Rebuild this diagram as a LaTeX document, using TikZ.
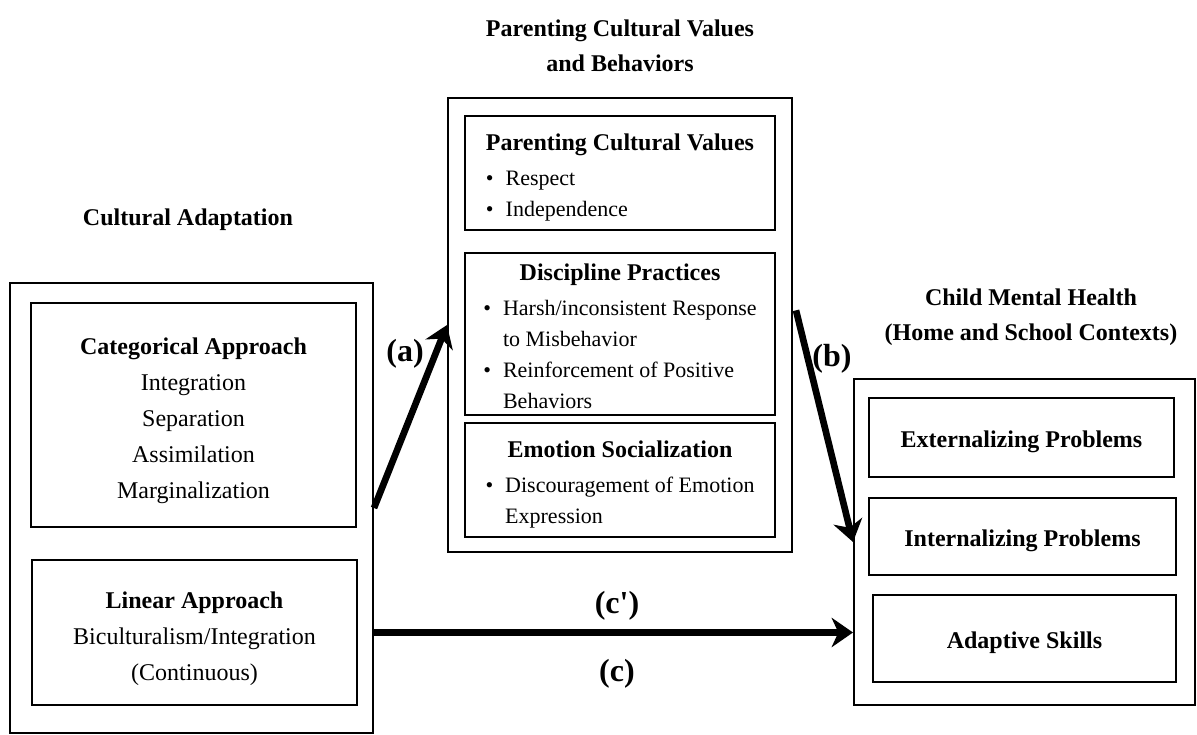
\documentclass[tikz,border=0pt]{standalone}
\usepackage{fontspec}
\setmainfont{Liberation Serif}
\usepackage{tikz}
\usetikzlibrary{positioning,arrows.meta,calc}

\newcommand{\bodyfont}{\fontsize{18}{27}\selectfont}
\newcommand{\listfont}{\fontsize{16.5}{23.25}\selectfont}
\newcommand{\headfont}{\fontsize{18}{26}\selectfont\bfseries}
% lower a box's text a little without changing its size
\newcommand{\low}[1]{\raisebox{-3.5pt}[\height][\depth]{#1}}
\newcommand{\listhead}[1]{\multicolumn{2}{@{}c@{}}{\fontsize{18}{23.25}\selectfont\bfseries #1}}

\begin{document}
\begin{tikzpicture}[x=0.75pt, y=-0.75pt,
  box/.style 2 args={draw, line width=1.5pt, inner sep=0pt, minimum width=#1*0.75pt,
    minimum height=#2*0.75pt, align=center, font=\bodyfont},
  listbox/.style 2 args={box={#1}{#2}, font=\listfont},
  heading/.style={align=center, font=\headfont},
  pathlabel/.style={font=\fontsize{24}{28}\selectfont\bfseries},
  patharrow/.style={line width=5pt, -{Stealth[length=16pt, width=22pt, inset=5pt]}}]

\useasboundingbox (0,0) rectangle (1197,735);

% cultural adaptation
\node[heading] (cult_title) at (188,220) {Cultural Adaptation};
\node[box={363}{450}] (cultural) at (191.5,508) {};
\node[box={325}{224}] (categorical) at (193.5,415) {\low{%
  \begin{tabular}{@{}c@{}}
  \textbf{Categorical Approach}\\Integration\\Separation\\Assimilation\\Marginalization
  \end{tabular}}};
\node[box={325}{145}] (linear) at (194.5,632.5) {\low{%
  \begin{tabular}{@{}c@{}}
  \textbf{Linear Approach}\\Biculturalism/Integration\\(Continuous)
  \end{tabular}}};

% parenting values and behaviors
\node[heading] (par_title) at (620,46) {Parenting Cultural Values\\and Behaviors};
\node[box={344}{454}] (parenting) at (620,325) {};
\node[listbox={310}{114}] (values) at (620,173) {\low{%
  \begin{tabular}{@{}l@{\hspace{9pt}}l@{}}
  \listhead{Parenting Cultural Values}\\[3pt]
  \textbullet & Respect\\
  \textbullet & Independence
  \end{tabular}}};
\node[listbox={310}{162}] (discipline) at (620,334) {\low{%
  \begin{tabular}{@{}l@{\hspace{9pt}}l@{}}
  \listhead{Discipline Practices}\\[3pt]
  \textbullet & Harsh/inconsistent Response\\
   & to Misbehavior\\
  \textbullet & Reinforcement of Positive\\
   & Behaviors
  \end{tabular}}};
\node[listbox={310}{114}] (emotion) at (620,480) {\low{%
  \begin{tabular}{@{}l@{\hspace{9pt}}l@{}}
  \listhead{Emotion Socialization}\\[3pt]
  \textbullet & Discouragement of Emotion\\
   & Expression
  \end{tabular}}};

% child mental health
\node[heading] (child_title) at (1031,317) {Child Mental Health\\(Home and School Contexts)};
\node[box={341}{326}] (child) at (1024.5,542) {};
\node[box={305}{79}, font=\bodyfont\bfseries] (external) at (1021.5,437.5) {\low{Externalizing Problems}};
\node[box={307}{77}, font=\bodyfont\bfseries] (internal) at (1022.5,536.5) {\low{Internalizing Problems}};
\node[box={303}{87}, font=\bodyfont\bfseries] (adaptive) at (1024.5,638.5) {\low{Adaptive Skills}};

% paths
\draw[patharrow] (cultural.east) -- (parenting.west);
\draw[patharrow] ([xshift=2.25pt, yshift=11pt]parenting.east) -- (child.west);
\draw[patharrow] (cultural.east |- linear.center) -- (child.west |- linear.center);

\node[pathlabel] (lbl_a) at (405,354) {(a)};
\node[pathlabel] (lbl_b) at (832,359) {(b)};
\node[pathlabel] (lbl_cp) at (617,606) {(c\textquotesingle)};
\node[pathlabel] (lbl_c) at (617,674) {(c)};

\end{tikzpicture}
\end{document}
